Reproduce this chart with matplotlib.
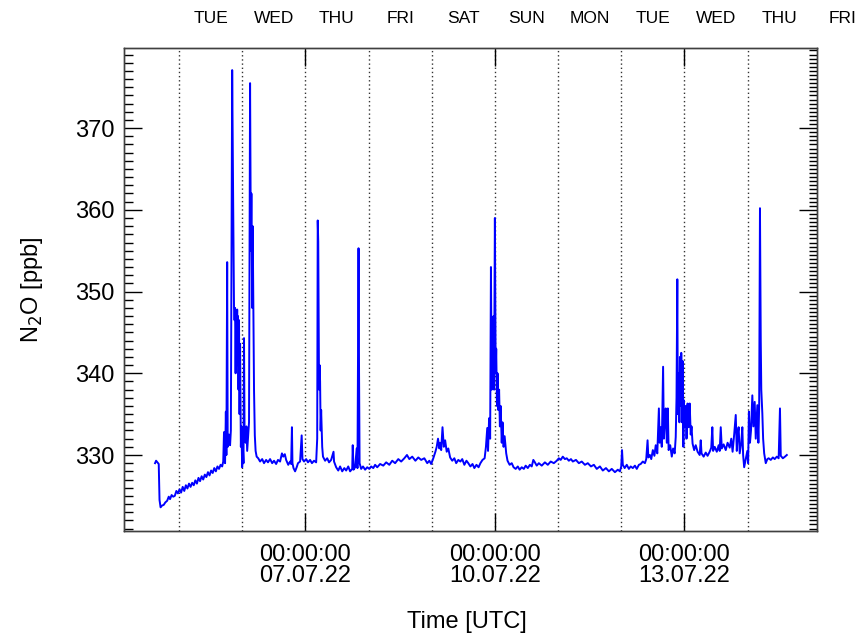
import matplotlib
matplotlib.use("Agg")
import matplotlib.pyplot as plt
from matplotlib.ticker import MultipleLocator
import pandas as pd

plt.rcParams["font.family"] = ["Liberation Sans", "DejaVu Sans"]

# hours since 04.07.22 00:00 UTC, N2O mixing ratio in ppb
hours = [
    14.9, 15.3, 15.8, 16.3, 16.6, 17.0, 17.5, 18.2, 18.8, 19.5, 20.1, 20.6, 21.2, 21.8,
    22.4, 23.0, 23.6, 24.2, 24.8, 25.4, 26.0, 26.6, 27.2, 27.8, 28.4, 29.0, 29.6, 30.2,
    30.8, 31.4, 32.0, 32.6, 33.2, 33.8, 34.4, 35.0, 35.6, 36.2, 36.8, 37.4, 38.0, 38.6,
    39.2, 39.8, 40.4, 40.8, 41.1, 41.5, 41.8, 42.0, 42.3, 42.5, 43.0, 43.4, 43.7, 44.2,
    44.4, 44.6, 44.9, 45.1, 45.3, 45.5, 45.7, 45.9, 46.1, 46.2, 46.4, 46.6, 46.8, 47.0,
    47.2, 47.5, 47.7, 48.0, 48.2, 48.5, 48.7, 48.9, 49.3, 49.6, 49.9, 50.2, 50.6, 51.0,
    51.3, 51.5, 51.8, 52.0, 52.3, 52.5, 52.8, 53.1, 53.5, 54.1, 54.8, 55.6, 56.3, 57.1,
    57.8, 58.6, 59.4, 60.1, 60.9, 61.6, 62.4, 63.1, 63.6, 64.2, 64.7, 65.5, 66.2, 66.6,
    66.9, 67.1, 67.5, 68.1, 68.7, 69.2, 70.0, 70.6, 70.9, 71.5, 72.3, 73.0, 73.8, 74.5,
    75.3, 76.1, 76.5, 76.7, 76.9, 77.2, 77.4, 77.6, 77.8, 78.0, 78.4, 78.7, 79.5, 80.3,
    81.0, 81.8, 82.7, 82.9, 83.7, 84.5, 85.2, 86.0, 86.8, 87.5, 88.3, 89.0, 89.8, 90.0,
    90.3, 90.9, 91.5, 91.8, 92.2, 92.4, 92.6, 93.2, 93.9, 94.7, 95.5, 96.3, 97.0, 97.8,
    98.5, 99.3, 100.4, 101.6, 102.7, 103.9, 105.0, 106.1, 107.3, 108.4, 109.6, 110.6,
    111.5, 112.6, 113.8, 114.9, 116.0, 117.2, 118.3, 119.1, 119.8, 120.6, 121.4, 121.9,
    122.4, 122.9, 123.2, 123.6, 124.1, 124.6, 125.1, 125.7, 126.3, 127.0, 127.8, 128.6,
    129.3, 130.1, 130.9, 131.6, 132.4, 133.2, 133.9, 134.7, 135.5, 136.2, 137.0, 137.8,
    138.5, 139.3, 140.1, 140.6, 141.1, 141.4, 141.8, 142.2, 142.5, 142.8, 143.0, 143.3,
    143.5, 143.7, 144.0, 144.3, 144.5, 144.8, 145.0, 145.3, 145.6, 145.9, 146.2, 146.6,
    146.9, 147.3, 147.7, 148.3, 148.8, 149.6, 150.4, 151.1, 151.9, 152.7, 153.4, 154.2,
    155.0, 155.7, 156.5, 157.3, 158.0, 158.6, 159.2, 159.9, 160.7, 161.8, 163.0, 164.1,
    165.2, 166.4, 167.5, 168.3, 169.0, 169.8, 170.6, 171.3, 172.1, 172.9, 173.6, 174.8,
    175.9, 177.0, 178.2, 179.3, 180.5, 181.6, 182.7, 183.9, 185.0, 186.2, 187.3, 188.4,
    189.6, 190.7, 191.5, 192.0, 192.3, 192.6, 193.3, 194.1, 194.9, 195.6, 196.4, 197.2,
    197.9, 198.7, 199.4, 200.2, 201.0, 201.5, 202.0, 202.3, 202.9, 203.4, 204.0, 204.6,
    205.1, 205.7, 206.3, 206.6, 207.0, 207.4, 207.9, 208.2, 208.5, 208.9, 209.3, 209.7,
    210.0, 210.6, 211.2, 211.7, 212.3, 212.7, 213.0, 213.3, 213.5, 213.8, 214.1, 214.3,
    214.6, 214.8, 215.1, 215.3, 215.6, 215.8, 216.1, 216.5, 216.8, 217.2, 217.6, 218.0,
    218.4, 218.7, 219.1, 219.7, 220.3, 221.0, 221.8, 222.2, 222.5, 223.3, 224.1, 224.8,
    225.6, 226.2, 226.6, 226.9, 227.5, 228.3, 229.0, 229.4, 229.8, 230.2, 230.9, 231.7,
    232.4, 233.2, 233.8, 234.3, 234.9, 235.5, 235.9, 236.2, 236.6, 237.0, 237.6, 238.0,
    238.3, 238.7, 239.3, 239.9, 240.2, 240.5, 240.9, 241.3, 241.8, 242.2, 242.7, 243.1,
    243.7, 244.1, 244.4, 244.7, 245.0, 245.2, 245.6, 245.9, 246.3, 246.9, 247.5, 248.0,
    248.8, 249.6, 250.3, 251.1, 251.8, 252.3, 252.6, 253.4, 254.2, 254.9,
]
n2o = [
    329.0, 329.3, 329.1, 328.9, 324.5, 323.6, 323.8, 323.9, 324.2, 324.4, 324.9, 324.6, 325.1, 324.9,
    325.0, 325.6, 325.3, 325.8, 325.4, 326.1, 325.6, 326.3, 325.9, 326.5, 326.1, 326.6, 326.3, 326.9,
    326.5, 327.2, 326.8, 327.4, 327.0, 327.6, 327.3, 327.9, 327.5, 328.1, 327.8, 328.4, 328.0, 328.6,
    328.3, 328.8, 328.6, 329.2, 332.8, 329.0, 335.3, 330.0, 353.6, 331.0, 332.5, 331.2, 333.0, 377.1,
    367.7, 360.0, 348.0, 346.5, 348.0, 340.0, 347.5, 344.0, 347.8, 341.0, 347.0, 338.0, 346.5, 335.0,
    343.6, 331.0, 333.5, 328.5, 331.5, 329.0, 344.3, 333.0, 331.5, 333.5, 330.5, 332.0, 334.0, 375.5,
    355.0, 362.0, 348.0, 358.0, 345.0, 338.0, 332.4, 330.5, 329.8, 329.6, 329.2, 329.5, 329.0, 329.4,
    329.1, 329.5, 329.0, 329.3, 328.9, 329.4, 329.2, 330.2, 329.8, 330.1, 329.4, 328.8, 329.2, 328.9,
    333.4, 329.0, 328.4, 328.0, 328.5, 329.0, 329.2, 332.4, 329.5, 329.2, 329.5, 329.1, 329.4, 329.0,
    329.3, 329.1, 332.0, 358.7, 356.1, 338.0, 341.0, 339.0, 333.0, 335.5, 331.0, 329.8, 329.3, 329.6,
    329.1, 329.4, 330.4, 329.2, 328.5, 328.1, 328.6, 328.0, 328.4, 328.1, 328.6, 328.0, 328.3, 331.2,
    328.2, 328.5, 330.8, 328.4, 355.3, 340.0, 329.0, 328.3, 328.6, 328.2, 328.5, 328.3, 328.6, 328.4,
    328.8, 328.5, 328.9, 328.7, 329.1, 328.8, 329.3, 329.0, 329.5, 329.2, 329.6, 330.0,
    329.5, 329.8, 329.3, 329.7, 329.4, 329.6, 329.0, 329.3, 328.9, 329.6, 330.4, 331.0,
    332.0, 330.8, 331.5, 330.6, 333.4, 331.0, 331.8, 330.4, 330.8, 329.7, 329.3, 329.6,
    329.0, 329.4, 329.2, 329.5, 328.8, 329.3, 329.0, 328.6, 328.9, 328.4, 328.8, 328.5,
    329.0, 329.4, 329.6, 331.0, 333.3, 330.5, 334.5, 332.0, 353.0, 338.0, 345.0, 340.0,
    347.0, 338.0, 359.0, 340.0, 343.0, 336.0, 340.0, 335.5, 338.0, 333.5, 336.0, 331.5,
    334.0, 331.0, 332.3, 330.2, 329.3, 328.8, 329.0, 328.5, 328.3, 328.6, 328.2, 328.5,
    328.3, 328.7, 328.4, 328.8, 328.6, 329.4, 329.1, 328.7, 329.0, 328.7, 329.1, 328.8,
    329.2, 329.0, 329.3, 329.6, 329.4, 329.8, 329.5, 329.6, 329.3, 329.5, 329.2, 329.4,
    329.0, 329.2, 328.8, 329.0, 328.6, 328.8, 328.3, 328.6, 328.1, 328.4, 328.0, 328.3,
    327.9, 328.2, 328.0, 328.6, 330.6, 328.8, 328.4, 328.8, 328.3, 328.6, 328.4, 328.7,
    328.3, 328.8, 328.9, 329.2, 329.0, 329.5, 331.8, 329.7, 330.0, 329.5, 330.6, 329.9,
    331.2, 330.2, 335.7, 331.5, 333.4, 331.0, 340.8, 332.0, 334.0, 335.7, 331.5, 335.7,
    330.6, 331.2, 329.8, 330.8, 330.2, 332.2, 337.0, 351.5, 335.0, 340.0, 334.0, 342.0,
    336.0, 342.5, 334.0, 341.5, 331.0, 336.7, 333.4, 336.0, 332.0, 336.3, 333.4, 336.3,
    332.5, 333.5, 331.4, 330.6, 331.2, 330.4, 330.0, 331.8, 330.2, 329.8, 330.3, 329.9,
    330.4, 330.9, 333.4, 330.5, 331.0, 330.4, 331.2, 330.5, 333.4, 330.8, 331.3, 330.6,
    331.5, 330.9, 332.0, 330.4, 332.5, 334.9, 330.5, 332.5, 333.4, 330.2, 331.5, 333.4,
    330.0, 328.5, 329.5, 330.5, 329.0, 335.3, 331.5, 333.0, 337.3, 333.5, 336.5, 332.0,
    336.1, 331.5, 336.0, 360.2, 344.0, 338.0, 335.1, 332.0, 330.2, 329.0, 329.5, 329.6,
    329.4, 329.7, 329.5, 329.8, 329.6, 335.7, 329.9, 329.6, 329.8, 330.0,
]

start = pd.Timestamp("2022-07-04 00:00")
times = start + pd.to_timedelta(hours, unit="h")
x_min = start + pd.Timedelta(hours=3.1)
x_max = start + pd.Timedelta(hours=266.4)
label_days = pd.date_range("2022-07-07", "2022-07-13", freq="3D")
grid_days = pd.date_range("2022-07-05", "2022-07-14", freq="D")
name_days = pd.date_range("2022-07-05", "2022-07-15", freq="D")

fig = plt.figure(figsize=(8.61, 6.37), dpi=100)
ax = fig.add_axes([0.144, 0.1664, 0.805, 0.7582])

# dotted line at every midnight
for d in grid_days:
    ax.axvline(d, color="0.2", linestyle=(0, (1, 2)), linewidth=1.0, zorder=1)

ax.plot(times, n2o, color="blue", linewidth=1.4, zorder=2)

ax.set_xlim(x_min, x_max)
ax.set_ylim(320.7, 379.8)

ax.set_xticks(label_days, [d.strftime("00:00:00\n%d.%m.%y") for d in label_days])
for lbl in ax.get_xticklabels():
    lbl.set_linespacing(0.95)
ax.tick_params(axis="x", which="major", direction="in", length=13, width=1,
               top=True, bottom=True, labelsize=17, pad=9)
ax.tick_params(axis="x", which="minor", bottom=False, top=False)

ax.yaxis.set_major_locator(MultipleLocator(10))
ax.yaxis.set_minor_locator(MultipleLocator(1))
ax.tick_params(axis="y", which="major", direction="in", length=13, width=1,
               left=True, right=False, labelsize=17, pad=7)
ax.tick_params(axis="y", which="minor", direction="in", length=6.5, width=1,
               left=True, right=False)

# right axis carries the finer tick marks
ax_r = ax.twinx()
ax_r.set_ylim(ax.get_ylim())
ax_r.yaxis.set_major_locator(MultipleLocator(10))
ax_r.yaxis.set_minor_locator(MultipleLocator(0.5))
ax_r.tick_params(axis="y", which="major", direction="in", length=13, width=1, labelright=False)
ax_r.tick_params(axis="y", which="minor", direction="in", length=6, width=1)

for a in (ax, ax_r):
    for sp in a.spines.values():
        sp.set_linewidth(1.0)
        sp.set_color("0.25")

for d in name_days:
    ax.text(d + pd.Timedelta(hours=12), 1.062, d.strftime("%a").upper(),
            transform=ax.get_xaxis_transform(), ha="center", va="center",
            fontsize=12.5, clip_on=False)

fig.text(467 / 861, 1 - 622 / 637, "Time [UTC]", ha="center", va="center", fontsize=17)
fig.text(32 / 861, 1 - 290 / 637, "N$_2$O [ppb]", ha="center", va="center",
         rotation=90, fontsize=17)

fig.savefig("out.png", dpi=100)
